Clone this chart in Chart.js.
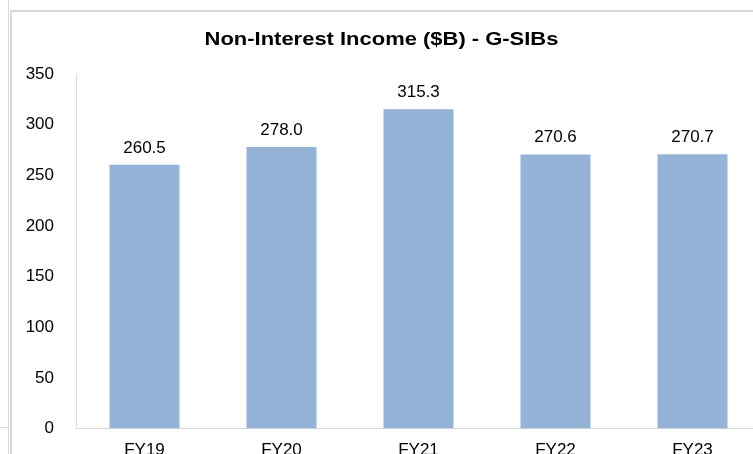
<!DOCTYPE html>
<html>
<head>
<meta charset="utf-8">
<script src="https://cdn.jsdelivr.net/npm/chart.js@4"></script>
<style>
  html, body { margin: 0; padding: 0; background: #fff; overflow: hidden; width: 753px; height: 454px; }
  #box { position: absolute; left: 0; top: 0; width: 780px; height: 484px; }
  .ln { position: absolute; background: #d9d9d9; }
</style>
</head>
<body>
<div class="ln" style="left:8px;top:0;width:1px;height:454px"></div>
<div class="ln" style="left:10px;top:10px;width:2px;height:444px"></div>
<div class="ln" style="left:10px;top:10px;width:743px;height:2px"></div>
<div class="ln" style="left:0;top:427px;width:8px;height:1px"></div>
<div id="box"><canvas id="chart"></canvas></div>
<script>
var title = "Non-Interest Income ($B) - G-SIBs";
var years = ["FY19", "FY20", "FY21", "FY22", "FY23"];
var income = [260.5, 278.0, 315.3, 270.6, 270.7];
var yTicks = [0, 50, 100, 150, 200, 250, 300, 350];

var fontFam = "'Liberation Sans', Arial, sans-serif";

// draws value over each bar, no datalabels plugin offline
var valueLabels = {
    id: "valueLabels",
    afterDatasetsDraw(chart) {
        let ctx = chart.ctx;
        let meta = chart.getDatasetMeta(0);
        ctx.save();
        ctx.font = "17px " + fontFam;
        ctx.fillStyle = "#000";
        ctx.textAlign = "center";
        ctx.textBaseline = "alphabetic";
        meta.data.forEach((bar, i) => {
            ctx.fillText(income[i].toFixed(1), bar.x, bar.y - 12);
        });
        ctx.restore();
    }
};

// title in the source is drawn wider than plain arial bold, so stretch it a bit
var wideTitle = {
    id: "wideTitle",
    afterDraw(chart) {
        let ctx = chart.ctx;
        ctx.save();
        ctx.font = "bold 18px " + fontFam;
        ctx.fillStyle = "#000";
        ctx.textAlign = "center";
        ctx.textBaseline = "alphabetic";
        ctx.translate(381.5, 45.3);
        ctx.scale(1.22, 1);
        ctx.fillText(title, 0, 0);
        ctx.restore();
    }
};

new Chart(document.getElementById("chart"), {
    type: "bar",
    data: {
        labels: years,
        datasets: [{
            data: income,
            backgroundColor: "#95B3D7",
            categoryPercentage: 1,
            barPercentage: 0.511
        }]
    },
    options: {
        responsive: true,
        maintainAspectRatio: false,
        animation: false,
        layout: { padding: { left: 0, right: 19, top: 74, bottom: 11 } },
        plugins: {
            legend: { display: false },
            tooltip: { enabled: false },
            title: { display: false }
        },
        scales: {
            x: {
                grid: { display: false, drawTicks: false },
                border: { display: true, color: "#d9d9d9", width: 1 },
                ticks: {
                    color: "#000",
                    padding: 12,
                    font: { family: fontFam, size: 17 }
                }
            },
            y: {
                min: 0,
                max: 350,
                afterBuildTicks: (scale) => { scale.ticks = yTicks.map(v => ({ value: v })); },
                afterFit: (scale) => { scale.width = 76; },
                grid: { display: false, drawTicks: false },
                border: { display: true, color: "#d9d9d9", width: 1 },
                ticks: {
                    color: "#000",
                    padding: 22,
                    font: { family: fontFam, size: 17 }
                }
            }
        }
    },
    plugins: [valueLabels, wideTitle]
});
</script>
</body>
</html>
